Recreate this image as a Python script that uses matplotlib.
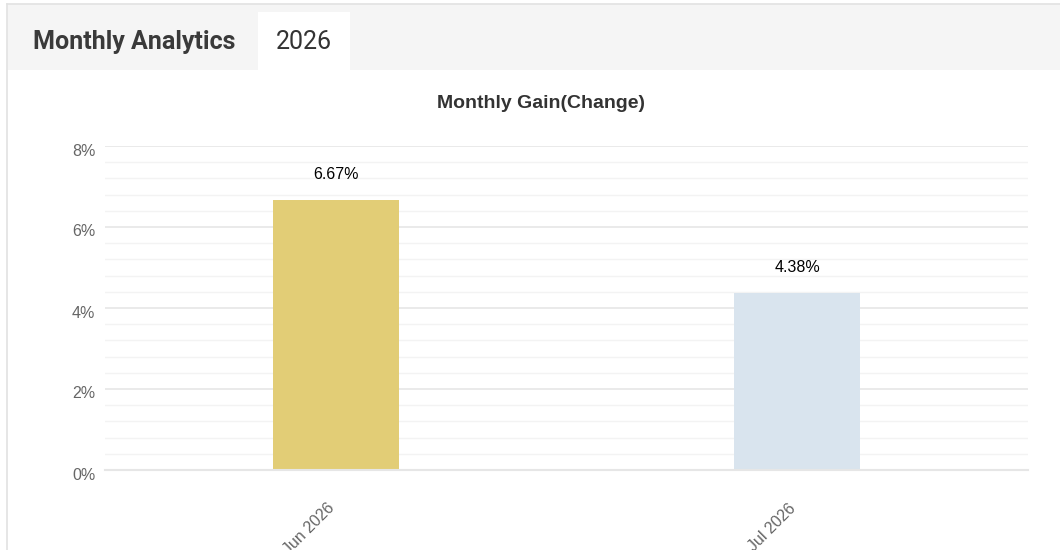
import matplotlib
matplotlib.use("Agg")
import matplotlib.pyplot as plt
from matplotlib.patches import Rectangle
from matplotlib.lines import Line2D
from matplotlib.ticker import MultipleLocator, FuncFormatter
from matplotlib.transforms import ScaledTranslation
import numpy as np

categories = ["Jun 2026", "Jul 2026"]
values = [6.67, 4.38]
bar_colors = ["#E2CD76", "#D9E4EE"]
y_ticks = [0, 2, 4, 6, 8]
header_title = "Monthly Analytics"
tab_label = "2026"
chart_title = "Monthly Gain(Change)"

W, H = 1060, 550
fig = plt.figure(figsize=(W / 100, H / 100), dpi=100)
fig.patch.set_facecolor("white")

def fx(px):
    return px / W

def fy(py):
    return 1 - py / H

# header band
fig.patches.append(Rectangle((fx(7), fy(70)), fx(1060 - 7), (66) / H,
                             transform=fig.transFigure, facecolor="#F5F5F5",
                             edgecolor="none", zorder=0))
# outer border lines
fig.lines.append(Line2D([fx(7), fx(7)], [fy(4), 0], transform=fig.transFigure,
                        color="#E2E2E2", lw=1.2))
fig.lines.append(Line2D([fx(7), 1], [fy(4), fy(4)], transform=fig.transFigure,
                        color="#E2E2E2", lw=1.2))
# white tab
fig.patches.append(Rectangle((fx(258), fy(70)), fx(92), 58 / H,
                             transform=fig.transFigure, facecolor="white",
                             edgecolor="none", zorder=1))
fig.text(fx(33), fy(42), header_title, fontsize=18, family="Roboto",
         fontweight="bold", color="#3A3A3A", va="center", ha="left")
fig.text(fx(304), fy(42), tab_label, fontsize=18, family="Roboto",
         color="#333333", va="center", ha="center")

fig.text(fx(541), fy(104), chart_title, fontsize=14, family="Liberation Sans",
         fontweight="bold", color="#333333", va="center", ha="center")

ax = fig.add_axes([fx(105), fy(470), fx(923), (470 - 146) / H])
x = np.arange(len(categories))
bars = ax.bar(x, values, width=0.273, color=bar_colors, zorder=3)
ax.set_xlim(-0.5, len(categories) - 0.5)
ax.set_ylim(0, 8)
ax.set_yticks(y_ticks)
ax.yaxis.set_minor_locator(MultipleLocator(0.4))
ax.yaxis.set_major_formatter(FuncFormatter(lambda v, p: f"{v:g}%"))
ax.grid(axis="y", which="major", color="#E6E6E6", lw=1.2, zorder=0)
ax.grid(axis="y", which="minor", color="#F3F3F3", lw=1.0, zorder=0)
for s in ["top", "right", "left"]:
    ax.spines[s].set_visible(False)
ax.spines["bottom"].set_color("#E6E6E6")
ax.spines["bottom"].set_linewidth(1.5)
ax.spines["bottom"].set_zorder(4)
ax.tick_params(axis="y", which="both", length=0, pad=7, labelsize=11.5,
               labelcolor="#666666")
for lab in ax.get_yticklabels():
    lab.set_family("Liberation Sans")
    lab.set_transform(lab.get_transform() + ScaledTranslation(0, -0.035, fig.dpi_scale_trans))
ax.set_xticks(x)
ax.tick_params(axis="x", which="both", length=0, labelbottom=False)

xlab_tr = ax.get_xaxis_transform() + ScaledTranslation(-0.04, -0.36, fig.dpi_scale_trans)
for xi, cat in zip(x, categories):
    ax.text(xi, 0, cat, transform=xlab_tr, rotation=45, ha="right", va="center",
            rotation_mode="anchor", fontsize=11.5, color="#666666",
            family="Liberation Sans", clip_on=False)

for b, v in zip(bars, values):
    ax.annotate(f"{v:.2f}%", (b.get_x() + b.get_width() / 2, v),
                xytext=(0, 18), textcoords="offset points", ha="center",
                va="center", fontsize=11.5, color="black", family="Liberation Sans")

fig.savefig("out.png", dpi=100, facecolor="white")
